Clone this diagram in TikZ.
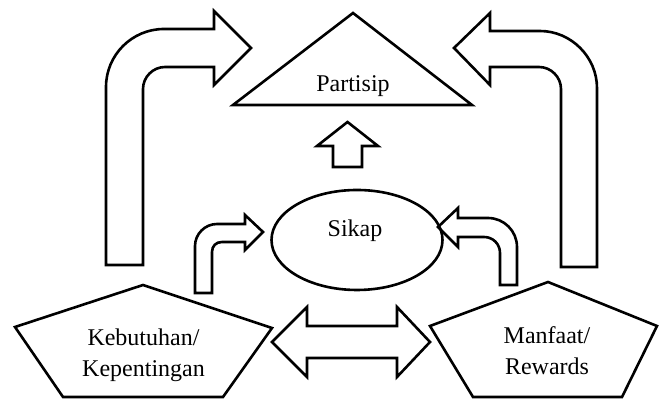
\documentclass[tikz,border=0pt]{standalone}
\usepackage{fontspec}
\setmainfont{Liberation Serif}
\usetikzlibrary{shapes.geometric}

\begin{document}
\begin{tikzpicture}[x=0.5pt, y=-0.5pt, line width=1.3pt, line join=miter,
    blok/.style={draw=black, fill=none},
    teks/.style={font=\fontsize{12}{15.5}\selectfont, align=center, inner sep=0pt}]
        \useasboundingbox (0,0) rectangle (659,399);

        % Partisip triangle
        \draw [blok] (233,105) -- (353,13) -- (472,105) -- cycle;
        \node [teks] (partisip) at (353,86) {Partisip};

        % Sikap
        \node [draw, ellipse, minimum width=85.5pt, minimum height=50pt, inner sep=0pt] (sikap) at (357,240) {};
        \node [teks] (sikaptxt) at (355,231) {Sikap};

        % pentagons
        \draw [blok] (143,285) -- (272,328) -- (223,397) -- (63,397) -- (15,327) -- cycle;
        \node [teks] (kebutuhan) at (143.5,355) {Kebutuhan/\\Kepentingan};
        \draw [blok] (548,282) -- (657,326) -- (622,397) -- (473,397) -- (430,326) -- cycle;
        \node [teks] (manfaat) at (547,351) {Manfaat/\\Rewards};

        % big bent arrows
        \draw [blok] (106,265) -- (106,87) .. controls (106,55) and (132,29) .. (164,29) -- (214,29) -- (214,11) -- (251,48) -- (214,85) -- (214,67) -- (165,67) .. controls (153,67) and (143,77) .. (143,89) -- (143,265) -- cycle;
        \draw [blok] (597,267) -- (597,88) .. controls (597,57) and (571,31) .. (540,31) -- (490,31) -- (490,13) -- (454,48) -- (490,85) -- (490,67) -- (539,67) .. controls (551,67) and (561,77) .. (561,89) -- (561,267) -- cycle;

        % small bent arrows
        \draw [blok] (195,293) -- (195,246) .. controls (195,234) and (205,224) .. (217,224) -- (245,224) -- (245,215) -- (263,232) -- (245,250) -- (245,242) -- (222,242) .. controls (216,242) and (212,246) .. (212,252) -- (212,293) -- cycle;
        \draw [blok] (517,285) -- (517,247) .. controls (517,231) and (504,218) .. (488,218) -- (458,218) -- (458,208) -- (438,227) -- (458,247) -- (458,237) -- (484,237) .. controls (493,237) and (500,244) .. (500,253) -- (500,285) -- cycle;

        % up arrow and double arrow
        \draw [blok] (333,167) -- (333,146) -- (317,146) -- (347.5,122) -- (378,146) -- (362,146) -- (362,167) -- cycle;
        \draw [blok] (272,342) -- (307,307) -- (307,326) -- (397,326) -- (397,307) -- (430,342) -- (397,377) -- (397,358) -- (307,358) -- (307,377) -- cycle;
\end{tikzpicture}
\end{document}
